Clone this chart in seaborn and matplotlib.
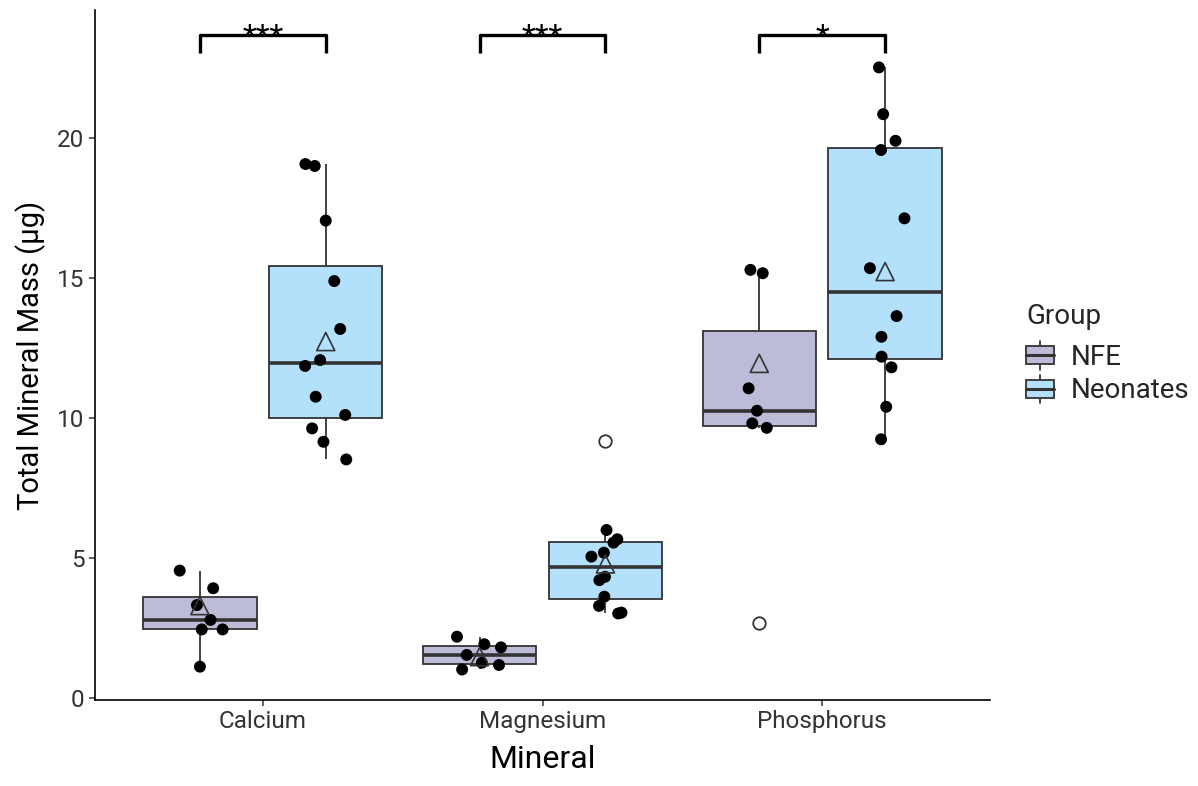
import numpy as np
import pandas as pd
import matplotlib
matplotlib.use("Agg")
import matplotlib.pyplot as plt
import seaborn as sns
from matplotlib.legend_handler import HandlerBase
from matplotlib.patches import Rectangle, Patch
from matplotlib.lines import Line2D

# ---------------- data ----------------
minerals = ["Calcium", "Magnesium", "Phosphorus"]
groups = ["NFE", "Neonates"]

calcium_nfe = [4.55, 3.92, 3.32, 2.79, 2.45, 2.45, 1.12]
calcium_neonates = [19.07, 19.00, 17.05, 14.89, 13.18, 12.07, 11.86, 10.76,
                    10.11, 9.63, 9.15, 8.52]
magnesium_nfe = [2.19, 1.92, 1.81, 1.54, 1.26, 1.18, 1.02]
magnesium_neonates = [9.19, 6.00, 5.67, 5.55, 5.19, 5.05, 4.33, 4.21, 3.62,
                      3.29, 3.05, 3.02]
phosphorus_nfe = [15.29, 15.17, 11.06, 10.26, 9.81, 9.65, 2.67]
phosphorus_neonates = [22.52, 20.85, 19.90, 19.57, 17.13, 15.35, 13.64, 12.90,
                       12.19, 11.81, 10.40, 9.24]

# group means shown as open triangles
mean_nfe = [3.30, 1.48, 11.95]
mean_neonates = [12.73, 4.79, 15.23]

significance = ["***", "***", "*"]
bracket_y = 23.68
bracket_tick = 0.64

box_colors = {"NFE": "#BCBCD8", "Neonates": "#B3E1FC"}
edge = "#333333"

# ---------------- tidy table ----------------
series = {
    ("Calcium", "NFE"): calcium_nfe,
    ("Calcium", "Neonates"): calcium_neonates,
    ("Magnesium", "NFE"): magnesium_nfe,
    ("Magnesium", "Neonates"): magnesium_neonates,
    ("Phosphorus", "NFE"): phosphorus_nfe,
    ("Phosphorus", "Neonates"): phosphorus_neonates,
}
rows = []
for (m, g), vals in series.items():
    q1, q3 = np.percentile(vals, [25, 75])
    iqr = q3 - q1
    for v in vals:
        out = (v < q1 - 1.5 * iqr) or (v > q3 + 1.5 * iqr)
        rows.append({"Mineral": m, "Group": g, "Mass": v, "Outlier": out})
df = pd.DataFrame(rows)

means_df = pd.DataFrame({
    "Mineral": minerals * 2,
    "Group": ["NFE"] * 3 + ["Neonates"] * 3,
    "Mass": mean_nfe + mean_neonates,
})

# ---------------- style ----------------
sns.set_style("white")
plt.rcParams["font.family"] = ["Roboto", "DejaVu Sans"]

fig = plt.figure(figsize=(11.98, 7.86), dpi=100)
ax = fig.add_axes([95 / 1198, 86 / 786, (990 - 95) / 1198, 690 / 786])

sns.boxplot(
    data=df, x="Mineral", y="Mass", hue="Group", order=minerals,
    hue_order=groups, palette=box_colors, saturation=1, width=0.9, gap=0.1,
    linecolor=edge, linewidth=1.3, legend=False, ax=ax,
    medianprops=dict(linewidth=2.6, color=edge),
    capprops=dict(linewidth=0),
    flierprops=dict(marker="o", markerfacecolor="white",
                    markeredgecolor=edge, markersize=9, markeredgewidth=1.3),
)


def shift_new(start, amount):
    for c in ax.collections[start:]:
        offs = np.asarray(c.get_offsets()).copy()
        if len(offs) == 0:
            continue
        side = np.sign(offs[:, 0] - np.round(offs[:, 0]))
        offs[:, 0] = offs[:, 0] + side * amount
        c.set_offsets(offs)


np.random.seed(7)
n0 = len(ax.collections)
sns.stripplot(
    data=df[~df["Outlier"]], x="Mineral", y="Mass", hue="Group",
    order=minerals, hue_order=groups,
    palette={"NFE": "black", "Neonates": "black"},
    dodge=True, jitter=0.17, size=8.6, linewidth=0, legend=False, ax=ax,
    zorder=3,
)
shift_new(n0, 0.025)

n1 = len(ax.collections)
sns.stripplot(
    data=means_df, x="Mineral", y="Mass", hue="Group",
    order=minerals, hue_order=groups,
    palette={"NFE": "white", "Neonates": "white"},
    dodge=True, jitter=False, marker="^", size=13, linewidth=1.2,
    edgecolor=edge, legend=False, ax=ax, zorder=4,
)
shift_new(n1, 0.025)
for c in ax.collections[n1:]:
    c.set_facecolor("none")
    c.set_edgecolor(edge)

# significance brackets
for i, lab in enumerate(significance):
    x0, x1 = i - 0.225, i + 0.225
    ax.plot([x0, x0, x1, x1],
            [bracket_y - bracket_tick, bracket_y, bracket_y,
             bracket_y - bracket_tick],
            color="black", lw=2.4, solid_capstyle="butt", zorder=5,
            clip_on=False)
    ax.text(i, bracket_y - 0.08, lab, ha="center", va="center",
            fontsize=23, color="black", zorder=6)

# axes
ax.set_xlim(-0.6, 2.6)
ax.set_ylim(-0.07, 24.57)
ax.set_yticks([0, 5, 10, 15, 20])
ax.set_xlabel("Mineral", fontsize=23, color="black", labelpad=8)
ax.set_ylabel("Total Mineral Mass (µg)", fontsize=21, color="black",
              labelpad=8)
ax.tick_params(axis="both", labelsize=17.5, labelcolor="#333333",
               color="#333333", length=4, width=1.1, left=True, bottom=True)
for s in ["top", "right"]:
    ax.spines[s].set_visible(False)
for s in ["left", "bottom"]:
    ax.spines[s].set_color("black")
    ax.spines[s].set_linewidth(1.2)


# legend with boxplot-like keys
class BoxKeyHandler(HandlerBase):
    def create_artists(self, legend, orig_handle, xdescent, ydescent,
                       width, height, fontsize, trans):
        face = orig_handle.get_facecolor()
        x0, y0 = -xdescent, -ydescent
        bh = height * 0.62
        by = y0 + (height - bh) / 2
        whisk = Line2D([x0 + width / 2] * 2, [y0, y0 + height], color=edge,
                       lw=1.3, transform=trans)
        rect = Rectangle((x0, by), width, bh, facecolor=face, edgecolor=edge,
                         lw=1.3, transform=trans)
        med = Line2D([x0, x0 + width], [y0 + height / 2] * 2, color=edge,
                     lw=2.2, transform=trans)
        return [whisk, rect, med]


handles = [Patch(facecolor=box_colors[g], label=g) for g in groups]
leg = ax.legend(
    handles=handles, labels=groups, title="Group",
    handler_map={Patch: BoxKeyHandler()},
    loc="center left", bbox_to_anchor=(1026 / 1198, 0.55),
    bbox_transform=fig.transFigure, frameon=False, fontsize=20,
    title_fontsize=20, handlelength=1.0, handleheight=1.2,
    handletextpad=0.6, labelspacing=0.15, borderpad=0, borderaxespad=0,
    alignment="left",
)
leg._legend_box.sep = 8

fig.savefig("out.png", dpi=100)
